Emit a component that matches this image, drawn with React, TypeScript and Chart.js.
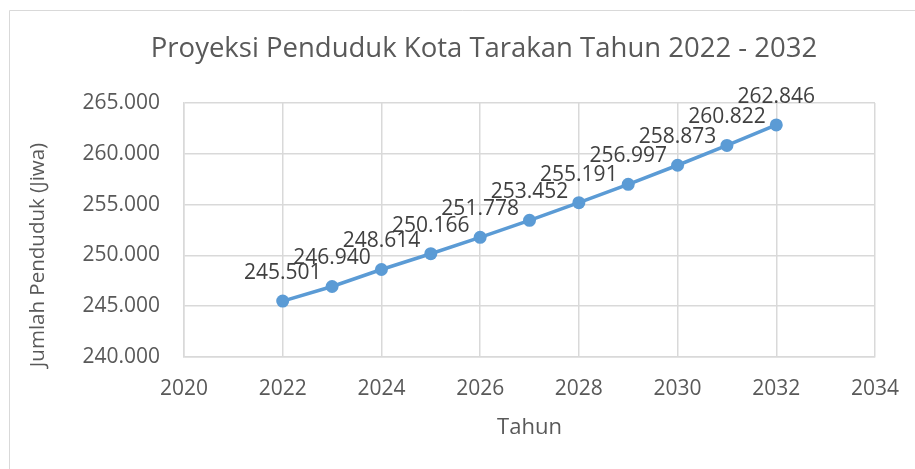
import React, { useEffect, useRef } from "react";
import { Chart, registerables } from "chart.js";

Chart.register(...registerables);

const years = [2022, 2023, 2024, 2025, 2026, 2027, 2028, 2029, 2030, 2031, 2032];
const population = [245501, 246940, 248614, 250166, 251778, 253452, 255191, 256997, 258873, 260822, 262846];
const chartTitle = "Proyeksi Penduduk Kota Tarakan Tahun 2022 - 2032";
const xAxisTitle = "Tahun";
const yAxisTitle = "Jumlah Penduduk (Jiwa)";

const FONT = "'Open Sans', sans-serif";
const TEXT = "#595959";
const GRID = "#d9d9d9";

const fmt = (v: number) => {
  const s = Math.round(v).toString();
  return s.replace(/\B(?=(\d{3})+(?!\d))/g, ".");
};

const decorPlugin = {
  id: "decor",
  beforeDraw(chart: any) {
    const ctx = chart.ctx;
    ctx.save();
    ctx.strokeStyle = GRID;
    ctx.lineWidth = 1;
    ctx.beginPath();
    ctx.moveTo(9.5, 469);
    ctx.lineTo(9.5, 10.5);
    ctx.lineTo(915, 10.5);
    ctx.stroke();
    ctx.fillStyle = TEXT;
    ctx.font = `27.5px ${FONT}`;
    ctx.textAlign = "center";
    ctx.textBaseline = "middle";
    ctx.fillText(chartTitle, 484, 49);
    ctx.font = `20.5px ${FONT}`;
    ctx.translate(38, 255);
    ctx.rotate(-Math.PI / 2);
    ctx.fillText(yAxisTitle, 0, 0);
    ctx.restore();
  },
  afterDatasetsDraw(chart: any) {
    const ctx = chart.ctx;
    const meta = chart.getDatasetMeta(0);
    ctx.save();
    ctx.fillStyle = "#404040";
    ctx.font = `21px ${FONT}`;
    ctx.textAlign = "center";
    ctx.textBaseline = "alphabetic";
    meta.data.forEach((pt: any, i: number) => {
      ctx.fillText(fmt(population[i]), pt.x, pt.y - 22);
    });
    ctx.restore();
  },
};

export default function App() {
  const ref = useRef<HTMLCanvasElement | null>(null);
  useEffect(() => {
    if (!ref.current) return;
    const chart = new Chart(ref.current, {
      type: "line",
      data: {
        datasets: [
          {
            data: years.map((y, i) => ({ x: y, y: population[i] })),
            borderColor: "#5b9bd5",
            backgroundColor: "#5b9bd5",
            borderWidth: 3.5,
            pointRadius: 6.5,
            pointBorderWidth: 0,
            pointBackgroundColor: "#5b9bd5",
            tension: 0,
          },
        ],
      },
      options: {
        animation: false,
        responsive: false,
        maintainAspectRatio: false,
        layout: { padding: { left: 0, right: 40, top: 103, bottom: 0 } },
        plugins: { legend: { display: false }, tooltip: { enabled: false }, title: { display: false } },
        scales: {
          x: {
            type: "linear",
            min: 2020,
            max: 2034,
            ticks: { stepSize: 2, color: TEXT, font: { family: FONT, size: 21 }, padding: 19, callback: (v: any) => String(v) },
            grid: { color: GRID, lineWidth: 1.5, drawTicks: false },
            border: { color: GRID, width: 1.5 },
            title: { display: true, text: xAxisTitle, color: TEXT, font: { family: FONT, size: 22 }, padding: { top: 0, bottom: 28 } },
            afterFit: (s: any) => { s.height = 112; s.paddingLeft = 0; s.paddingRight = 0; },
          },
          y: {
            min: 240000,
            max: 265000,
            ticks: { stepSize: 5000, color: TEXT, font: { family: FONT, size: 21 }, padding: 24, callback: (v: any) => fmt(v) },
            grid: { color: GRID, lineWidth: 1.5, drawTicks: false },
            border: { color: GRID, width: 1.5 },
            title: { display: false },
            afterFit: (s: any) => { s.width = 184; s.paddingTop = 0; s.paddingBottom = 0; },
          },
        },
      },
      plugins: [decorPlugin],
    } as any);
    return () => chart.destroy();
  }, []);
  return (
    <div style={{ position: "absolute", left: 0, top: 0, width: 915, height: 469, background: "#fff" }}>
      <canvas ref={ref} width={915} height={469} style={{ display: "block" }} />
    </div>
  );
}
